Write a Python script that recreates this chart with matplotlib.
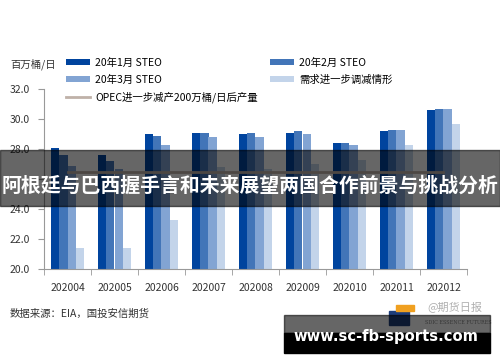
import numpy as np
import matplotlib.pyplot as plt
from matplotlib.patches import Rectangle

plt.rcParams['font.family'] = ['Noto Sans CJK SC', 'DejaVu Sans']

# 数据（百万桶/日）
months = ['202004', '202005', '202006', '202007', '202008', '202009', '202010', '202011', '202012']
steo_jan = [28.1, 27.6, 29.0, 29.1, 29.0, 29.1, 28.4, 29.2, 30.6]
steo_feb = [27.6, 27.2, 28.9, 29.1, 29.1, 29.2, 28.4, 29.3, 30.7]
steo_mar = [26.9, 26.7, 28.3, 28.8, 28.8, 29.0, 28.3, 29.3, 30.7]
demand_cut = [21.4, 21.4, 23.3, 26.8, 26.7, 27.0, 27.3, 28.3, 29.7]
opec_cut = [26.5] * 9

colors = ['#00449e', '#4275b8', '#82a4d3', '#c3d4ea']
line_color = '#bfb1a8'
W, H = 500, 362

fig = plt.figure(figsize=(5, 3.62), dpi=100)
ax = fig.add_axes([44 / W, 1 - 269.3 / H, 423 / W, 180 / H])

x = np.arange(len(months))
bw = 0.18
series = [(steo_jan, '20年1月 STEO'), (steo_feb, '20年2月 STEO'),
          (steo_mar, '20年3月 STEO'), (demand_cut, '需求进一步调减情形')]
bars = []
for i, (vals, lab) in enumerate(series):
    b = ax.bar(x + (i - 1.5) * bw, vals, bw, color=colors[i], label=lab, zorder=2)
    bars.append(b)
ln, = ax.plot(x, opec_cut, color=line_color, lw=2, label='OPEC进一步减产200万桶/日后产量', zorder=3)

ax.set_xlim(-0.5, len(months) - 0.5)
ax.set_ylim(20, 32)
yt = np.arange(20, 33, 2)
ax.set_yticks(yt)
# 26.0 被横幅遮住
ax.set_yticklabels(['' if v == 26 else f'{v:.1f}' for v in yt])
ax.set_xticks(x)
ax.set_xticklabels(months)
ax.set_xticks(np.arange(-0.5, len(months), 1), minor=True)
ax.tick_params(axis='x', which='major', length=0, pad=10, labelsize=7.5, labelcolor='#333333')
ax.tick_params(axis='x', which='minor', length=4, color='#999999')
ax.tick_params(axis='y', length=4, color='#999999', pad=6, labelsize=7.5, labelcolor='#333333')
for s in ['top', 'right']:
    ax.spines[s].set_visible(False)
for s in ['left', 'bottom']:
    ax.spines[s].set_color('#999999')
    ax.spines[s].set_linewidth(0.8)

# 图例
handles = [bars[0], bars[2], ln, bars[1], bars[3]]
fig.legend(handles=handles, labels=[h.get_label() for h in handles], ncol=2,
           loc='upper left', bbox_to_anchor=(66 / W, 1 - 58 / H), frameon=False,
           fontsize=7.5, handlelength=2.3, handleheight=0.5, handletextpad=0.5,
           columnspacing=1.2, labelspacing=0.62, borderpad=0, borderaxespad=0)

fig.text(10 / W, 1 - 64 / H, '百万桶/日', fontsize=7.5, color='#333333', va='center')
fig.text(10 / W, 1 - 314 / H, '数据来源：EIA，国投安信期货', fontsize=7.5, color='#333333', va='center')

# 水印 logo
fig.patches.append(Rectangle((389 / W, 1 - 325 / H), 20 / W, 14 / H, transform=fig.transFigure,
                             color='#1d3d7a', zorder=1))
fig.patches.append(Rectangle((396 / W, 1 - 311 / H), 18 / W, 6 / H, transform=fig.transFigure,
                             color='#f0a020', zorder=1))
fig.text(455 / W, 1 - 308 / H, '@期货日报', fontsize=8, color='#b0b0b0', ha='center', va='center')
fig.text(458 / W, 1 - 322 / H, 'SDIC ESSENCE FUTURES', fontsize=3.5, color='#888888',
         ha='center', va='center', family='DejaVu Serif')

# 半透明标题横幅
fig.patches.append(Rectangle((0, 1 - 206 / H), 1, 56 / H, transform=fig.transFigure,
                             color='black', alpha=0.6, zorder=10))
fig.text(0.5, 1 - 185 / H, '阿根廷与巴西握手言和未来展望两国合作前景与挑战分析', fontsize=14.3,
         color='white', fontweight='bold', ha='center', va='center', zorder=11)

# 网址横幅
fig.patches.append(Rectangle((284 / W, 1 - 333 / H), 206 / W, 18 / H, transform=fig.transFigure,
                             color='black', alpha=0.6, zorder=10))
fig.patches.append(Rectangle((284 / W, 1 - 353 / H), 206 / W, 20 / H, transform=fig.transFigure,
                             color='black', zorder=10))
fig.text(386 / W, 1 - 337 / H, 'www.sc-fb-sports.com', fontsize=10.6, color='white',
         fontweight='bold', ha='center', va='center', family='DejaVu Sans', zorder=11)

fig.savefig('out.png', dpi=100)
